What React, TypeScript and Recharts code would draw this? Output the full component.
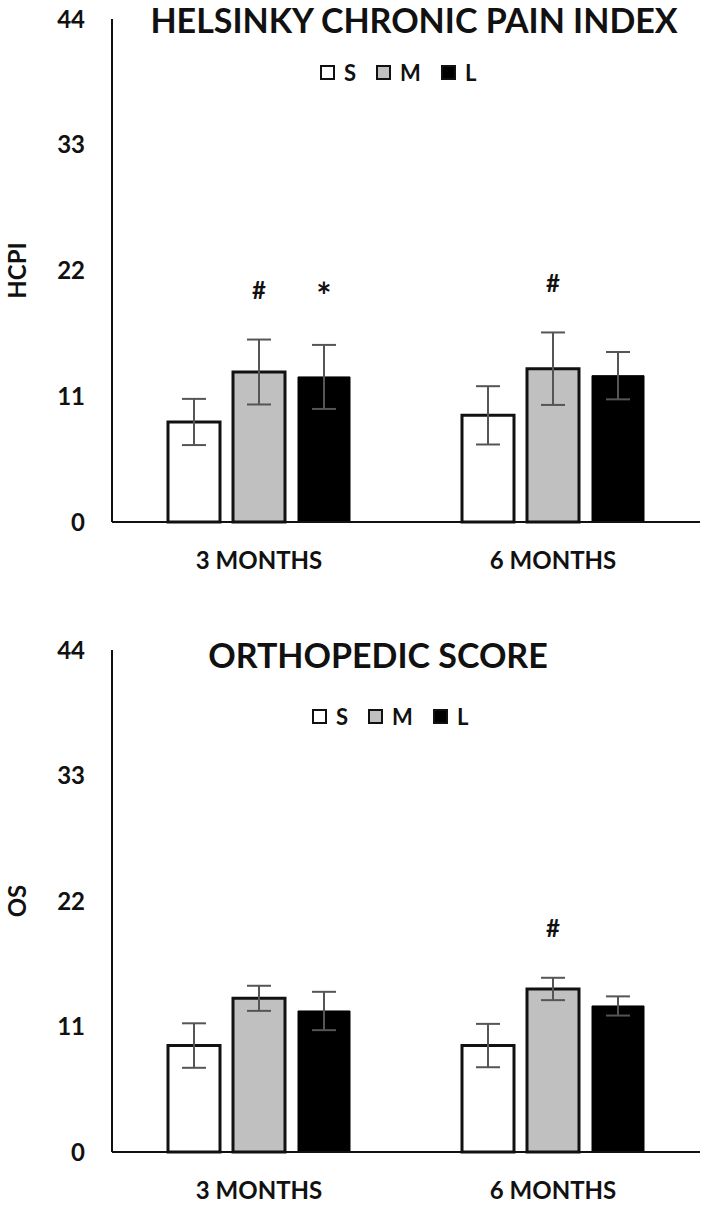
import React from "react";
import {
  BarChart,
  Bar,
  XAxis,
  YAxis,
  ErrorBar,
  LabelList,
  Legend,
  Label,
} from "recharts";

// categories + tick labels
const months = ["3 MONTHS", "6 MONTHS"];
const yTicks = [0, 11, 22, 33, 44];

// Helsinky chronic pain index (means, SD)
const hcpiS = [8.75, 9.33];
const hcpiM = [13.12, 13.41];
const hcpiL = [12.69, 12.8];
const hcpiErrS = [2.02, 2.55];
const hcpiErrM = [2.84, 3.17];
const hcpiErrL = [2.8, 2.07];
const hcpiSigM = ["#", "#"];
const hcpiSigL = ["*", ""];

// orthopedic score
const osS = [9.33, 9.33];
const osM = [13.47, 14.29];
const osL = [12.36, 12.8];
const osErrS = [1.95, 1.9];
const osErrM = [1.1, 0.98];
const osErrL = [1.68, 0.84];
const osSigM = ["", "#"];
const osSigL = ["", ""];

const FONT = "Lato, 'Open Sans', sans-serif";
const FILLS: Record<string, string> = { S: "#ffffff", M: "#c0c0c0", L: "#000000" };

function buildRows(
  s: number[], m: number[], l: number[],
  es: number[], em: number[], el: number[],
  sigM: string[], sigL: string[]
) {
  return months.map((cat, i) => ({
    cat,
    S: s[i], M: m[i], L: l[i],
    errS: es[i], errM: em[i], errL: el[i],
    sigM: sigM[i], sigL: sigL[i],
  }));
}

const hcpiData = buildRows(hcpiS, hcpiM, hcpiL, hcpiErrS, hcpiErrM, hcpiErrL, hcpiSigM, hcpiSigL);
const osData = buildRows(osS, osM, osL, osErrS, osErrM, osErrL, osSigM, osSigL);

// marker drawn above the top of the error bar
const sigLabel = (means: number[], errs: number[], size: number) => (props: any) => {
  const { x, y, width, height, value, index } = props;
  if (!value) return null;
  const pxPerUnit = height / means[index];
  const errTop = y - errs[index] * pxPerUnit;
  return (
    <text
      x={x + width / 2}
      y={errTop - 50}
      textAnchor="middle"
      dominantBaseline="central"
      fontFamily={FONT}
      fontWeight={700}
      fontSize={size}
      fill="#111"
    >
      {value}
    </text>
  );
};

const LegendBoxes = () => (
  <div style={{ display: "flex", alignItems: "center", fontFamily: FONT, fontWeight: 700, fontSize: 22, color: "#111" }}>
    {["S", "M", "L"].map((k) => (
      <div key={k} style={{ display: "flex", alignItems: "center", marginRight: 20 }}>
        <span
          style={{
            display: "inline-block",
            width: 11,
            height: 11,
            background: FILLS[k],
            border: "2px solid #111",
            marginRight: 9,
          }}
        />
        <span>{k}</span>
      </div>
    ))}
  </div>
);

function Panel({
  data, yLabel, top, height, marginTop, marginBottom, legendTop, legendLeft,
  sM, sL, eM, eL,
}: any) {
  return (
    <div style={{ position: "absolute", left: 0, top, width: 709, height }}>
      <BarChart
        width={709}
        height={height}
        data={data}
        margin={{ top: marginTop, right: 9, bottom: marginBottom, left: 0 }}
        barCategoryGap={56}
        barGap={13}
      >
        <XAxis
          dataKey="cat"
          axisLine={{ stroke: "#111", strokeWidth: 2 }}
          tickLine={false}
          tickSize={0}
          tickMargin={30}
          height={30}
          tick={{ fontFamily: FONT, fontWeight: 700, fontSize: 24, fill: "#111" }}
        />
        <YAxis
          width={112}
          domain={[0, 44]}
          ticks={yTicks}
          interval={0}
          axisLine={{ stroke: "#111", strokeWidth: 2 }}
          tickLine={false}
          tickSize={0}
          tickMargin={27}
          tick={{ fontFamily: FONT, fontWeight: 700, fontSize: 24, fill: "#111" }}
        >
          <Label
            content={(p: any) => {
              const vb = p.viewBox || {};
              const cx = (vb.x || 0) + 16;
              const cy = (vb.y || 0) + (vb.height || 0) / 2;
              return (
                <text
                  x={cx}
                  y={cy}
                  transform={`rotate(-90 ${cx} ${cy})`}
                  textAnchor="middle"
                  dominantBaseline="central"
                  fontFamily={FONT}
                  fontWeight={700}
                  fontSize={24}
                  fill="#111"
                >
                  {yLabel}
                </text>
              );
            }}
          />
        </YAxis>
        <Legend
          layout="horizontal"
          verticalAlign="middle"
          align="center"
          wrapperStyle={{ top: legendTop, left: legendLeft, width: 220 }}
          content={() => <LegendBoxes />}
        />
        <Bar dataKey="S" name="S" fill={FILLS.S} stroke="#111" strokeWidth={3} isAnimationActive={false}>
          <ErrorBar dataKey="errS" width={12} stroke="#555" strokeWidth={2} />
        </Bar>
        <Bar dataKey="M" name="M" fill={FILLS.M} stroke="#111" strokeWidth={3} isAnimationActive={false}>
          <ErrorBar dataKey="errM" width={12} stroke="#555" strokeWidth={2} />
          <LabelList dataKey="sigM" content={sigLabel(sM, eM, 24)} />
        </Bar>
        <Bar dataKey="L" name="L" fill={FILLS.L} stroke="#000" strokeWidth={1} isAnimationActive={false}>
          <ErrorBar dataKey="errL" width={12} stroke="#555" strokeWidth={2} />
          <LabelList dataKey="sigL" content={sigLabel(sL, eL, 36)} />
        </Bar>
      </BarChart>
    </div>
  );
}

const titleStyle: React.CSSProperties = {
  position: "absolute",
  transform: "translateX(-50%)",
  whiteSpace: "nowrap",
  fontFamily: FONT,
  fontWeight: 700,
  fontSize: 34,
  lineHeight: "34px",
  color: "#111",
};

export default function App() {
  return (
    <div style={{ position: "absolute", left: 0, top: 0, width: 709, height: 1207, background: "#fff" }}>
      <Panel
        data={hcpiData}
        yLabel="HCPI"
        top={0}
        height={600}
        marginTop={19}
        marginBottom={48}
        legendTop={59}
        legendLeft={320}
        sM={hcpiM}
        sL={hcpiL}
        eM={hcpiErrM}
        eL={hcpiErrL}
      />
      <Panel
        data={osData}
        yLabel="OS"
        top={600}
        height={607}
        marginTop={50}
        marginBottom={25}
        legendTop={103}
        legendLeft={312}
        sM={osM}
        sL={osL}
        eM={osErrM}
        eL={osErrL}
      />
      <div style={{ ...titleStyle, left: 414, top: 3 }}>HELSINKY CHRONIC PAIN INDEX</div>
      <div style={{ ...titleStyle, left: 378, top: 638 }}>ORTHOPEDIC SCORE</div>
    </div>
  );
}
